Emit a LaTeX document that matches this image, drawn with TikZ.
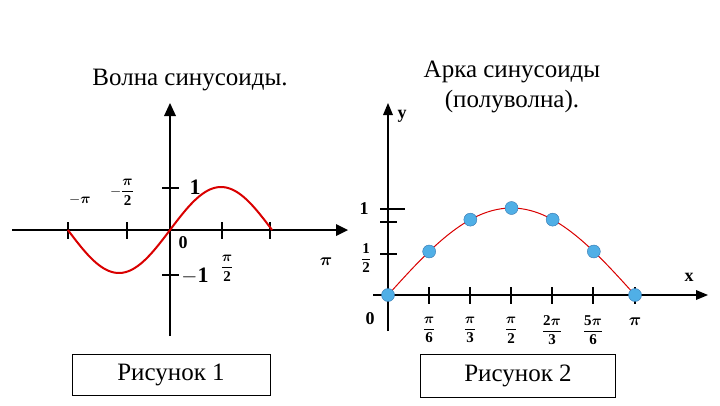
\documentclass[tikz,border=0pt]{standalone}
\usepackage{fontspec}
\usepackage{amsmath}
\usetikzlibrary{arrows.meta}
\setmainfont{Liberation Serif}
\begin{document}
\begin{tikzpicture}[x=1pt,y=-1pt,
  ax/.style={line width=2.2pt},
  tk/.style={line width=2.2pt},
  lbl/.style={font=\bfseries\fontsize{18}{20}\selectfont,inner sep=1pt},
  ttl/.style={font=\fontsize{25}{28}\selectfont,inner sep=0pt},
  dot/.style={circle,fill=cyan!80!blue!70,draw=cyan!60!blue!80!black,line width=0.4pt,inner sep=0pt,minimum size=13pt}]
\useasboundingbox (0,0) rectangle (720,405);
% titles
\node[ttl] (t1) at (190,80) {Волна синусоиды.};
\node[ttl] (t2) at (512,72) {Арка синусоиды};
\node[ttl] (t3) at (512,102) {(полуволна).};
\node[ttl,draw,line width=0.8pt,minimum width=198pt,minimum height=41pt] (r1) at (171,375) {Рисунок 1};
\node[ttl,draw,line width=0.8pt,minimum width=195pt,minimum height=43pt] (r2) at (518,376) {Рисунок 2};
% left graph
\coordinate (lxs) at (12,230); \coordinate (lxe) at (340,230);
\coordinate (lys) at (170,336); \coordinate (lye) at (170,112);
\draw[ax] (lxs) -- (lxe);
\draw[ax] (lys) -- (lye);
\fill (348,230) -- (336,224) -- (336,236) -- cycle;
\fill (170,103) -- (164,116) -- (176,116) -- cycle;
\foreach \x in {68,127,222,270} \draw[tk] (\x,222) -- (\x,239);
\draw[tk] (162,188) -- (179,188);
\draw[tk] (162,275) -- (179,275);
\draw[red!85!black,line width=2pt,domain=-3.1416:3.1416,samples=80,smooth]
  plot ({170+\x*32.5},{230-43*sin(\x r)});
\node[lbl,font=\bfseries\fontsize{15}{16}\selectfont] (a1) at (80,200) {$-\boldsymbol{\pi}$};
\node[lbl,font=\bfseries\fontsize{15}{16}\selectfont] (a2) at (122,192) {$-\dfrac{\boldsymbol{\pi}}{\mathbf 2}$};
\node[lbl,font=\bfseries\fontsize{22}{24}\selectfont] (a3) at (195,187) {1};
\node[lbl] (a4) at (183,243) {0};
\node[lbl,font=\bfseries\fontsize{15}{16}\selectfont] (a5) at (227,268) {$\dfrac{\boldsymbol{\pi}}{\mathbf 2}$};
\node[lbl] (a6) at (326,262) {$\boldsymbol{\pi}$};
\node[lbl,font=\bfseries\fontsize{22}{24}\selectfont] (a7) at (195,276) {$-$1};
% right graph
\draw[ax,line width=2pt] (373,295) -- (698,295);
\draw[ax,line width=2pt] (388,331) -- (388,112);
\fill (708,295) -- (696,290) -- (696,300) -- cycle;
\fill (388,103) -- (383,115) -- (393,115) -- cycle;
\foreach \x in {429,470,511,552,593,635} \draw[tk,line width=2pt] (\x,287) -- (\x,304);
\draw[tk,line width=2pt] (380,209) -- (405,209);
\draw[tk,line width=2pt] (380,222) -- (397,222);
\draw[tk,line width=2pt] (380,254) -- (397,254);
\draw[red!85!black,line width=1pt,domain=0:3.1416,samples=60,smooth]
  plot ({388+\x*78.6},{295-87*sin(\x r)});
\foreach \x/\n in {0/p0,30/p1,60/p2,90/p3,120/p4,150/p5,180/p6}
  \node[dot] (\n) at ({388+\x/180*247},{295-87*sin(\x)}) {};
\node[lbl] (b1) at (402,116) {y};
\node[lbl] (b2) at (689,277) {x};
\node[lbl] (b3) at (364,209) {1};
\node[lbl,font=\bfseries\fontsize{15}{16}\selectfont] (b4) at (366,258) {$\dfrac{\mathbf 1}{\mathbf 2}$};
\node[lbl] (b5) at (370,319) {0};
\foreach \x/\t in {429/\dfrac{\boldsymbol{\pi}}{\mathbf 6},470/\dfrac{\boldsymbol{\pi}}{\mathbf 3},511/\dfrac{\boldsymbol{\pi}}{\mathbf 2},552/\dfrac{\mathbf 2\boldsymbol{\pi}}{\mathbf 3},593/\dfrac{\mathbf 5\boldsymbol{\pi}}{\mathbf 6}}
  \node[lbl,font=\bfseries\fontsize{15}{16}\selectfont] at (\x,330) {$\t$};
\node[lbl] (b6) at (635,322) {$\boldsymbol{\pi}$};
\end{tikzpicture}
\end{document}
